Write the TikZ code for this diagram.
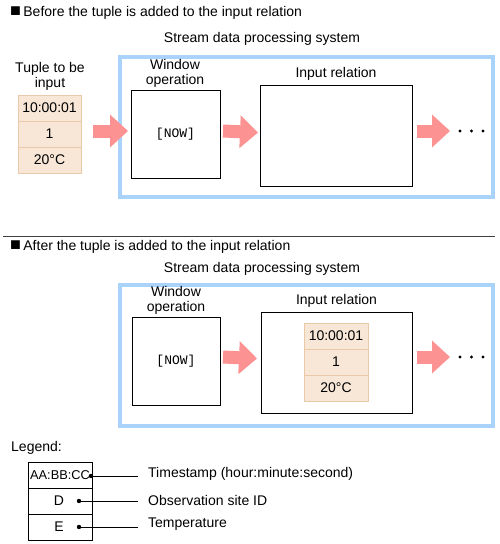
\documentclass[tikz,border=0pt]{standalone}
\usepackage{fontspec}
\setmainfont{Liberation Sans}
\setmonofont{Liberation Mono}
\usetikzlibrary{calc, arrows.meta, positioning}

\definecolor{framebl}{RGB}{170,211,252}
\definecolor{arrowpk}{RGB}{252,146,146}
\definecolor{tuplefill}{RGB}{248,231,215}
\definecolor{tupledraw}{RGB}{234,201,168}

\tikzset{
  txt/.style={font=\fontsize{14}{15}\selectfont, inner sep=0pt, align=center},
  frame/.style={draw=framebl, line width=4pt},
  opbox/.style={draw, line width=1pt, inner sep=0pt, outer sep=0pt},
  cell/.style={draw=tupledraw, fill=tuplefill, line width=1pt, outer sep=0pt, inner sep=0pt,
    minimum width=63pt, minimum height=26pt, font=\fontsize{14}{15}\selectfont},
  legcell/.style={draw, line width=0.8pt, outer sep=0pt, inner sep=0pt,
    minimum width=64pt, minimum height=26pt},
  blockarrow/.style={draw=arrowpk, line width=13pt,
    -{Triangle[length=18pt 0 0, width=33pt 0 0, line width=0pt, fill=arrowpk]}},
}

\begin{document}
\begin{tikzpicture}[x=1pt,y=-1pt]
        \useasboundingbox (0,0) rectangle (499,544);

        % before
        \node[txt, anchor=west] (head1) at (10,13) {{\fontsize{18}{15}\selectfont ■}\,Before the tuple is added to the input relation};
        \node[txt] (sys1) at (262,39) {Stream data processing system};
        \draw[frame] (120,57) rectangle (493,197);

        \node[txt] (tuplab) at (50,76) {Tuple to be\\input};
        \node[cell] (tupA) at (49.5,108) {10:00:01};
        \node[cell, below=0pt of tupA] (tupB) {1};
        \node[cell, below=0pt of tupB] (tupC) {20°C};

        \node[txt] (winlab1) at (175,73) {Window\\operation};
        \node[opbox, minimum width=89pt, minimum height=88pt] (win1) at (175.5,134)
          {\fontsize{13}{14}\selectfont\ttfamily [NOW]};
        \node[txt] (rellab1) at (336,74) {Input relation};
        \node[opbox, minimum width=152pt, minimum height=101pt] (rel1) at (336,135.5) {};

        \draw[blockarrow] ([xshift=12pt,yshift=3pt]tupB.east) -- ([xshift=-3pt,yshift=3pt]win1.west);
        \draw[blockarrow] ([xshift=3pt,yshift=3pt]win1.east) -- ([xshift=-2pt,yshift=3pt]rel1.west);
        \coordinate (out1) at (450,131);
        \draw[blockarrow] ([xshift=5pt]rel1.east |- out1) -- (out1);
        \fill (460,131) circle (1.6);
        \fill (471.5,131) circle (1.6);
        \fill (483,131) circle (1.6);

        \draw[line width=1pt, black!75] (3,236) -- (495,236);

        % after
        \node[txt, anchor=west] (head2) at (10,247) {{\fontsize{18}{15}\selectfont ■}\,After the tuple is added to the input relation};
        \node[txt] (sys2) at (262,269) {Stream data processing system};
        \draw[frame] (120,285) rectangle (493,426);

        \node[txt] (winlab2) at (176,300) {Window\\operation};
        \node[opbox, minimum width=88pt, minimum height=88pt] (win2) at (176,361)
          {\fontsize{13}{14}\selectfont\ttfamily [NOW]};
        \node[txt] (rellab2) at (336.5,301) {Input relation};
        \node[opbox, minimum width=151pt, minimum height=101pt] (rel2) at (336.5,362.5) {};

        \node[cell, minimum width=64pt] (inA) at (336,336) {10:00:01};
        \node[cell, minimum width=64pt, below=0pt of inA] (inB) {1};
        \node[cell, minimum width=64pt, below=0pt of inB] (inC) {20°C};

        \draw[blockarrow] ([xshift=3pt,yshift=4pt]win2.east) -- ([xshift=-4pt,yshift=4pt]rel2.west);
        \coordinate (out2) at (450,357);
        \draw[blockarrow] ([xshift=5pt]rel2.east |- out2) -- (out2);
        \fill (460,357) circle (1.6);
        \fill (471.5,357) circle (1.6);
        \fill (483,357) circle (1.6);

        % legend
        \node[txt, anchor=west] (leg) at (11,448) {Legend:};
        \node[legcell] (legA) at (60,475) {\fontsize{12.8}{14}\selectfont AA:BB:CC};
        \node[legcell, below=0pt of legA] (legB) {};
        \node[legcell, below=0pt of legB] (legC) {};
        \node[txt] at (59,501) {D};
        \node[txt] at (59,527) {E};

        \coordinate (dotA) at (91,476);
        \coordinate (dotB) at (79,501);
        \coordinate (dotC) at (79,527);
        \node[txt, anchor=west] (tsA) at (148,474) {Timestamp (hour:minute:second)};
        \node[txt, anchor=west] (tsB) at (148,500) {Observation site ID};
        \node[txt, anchor=west] (tsC) at (148,524) {Temperature};

        \draw[line width=0.8pt, shorten >=10pt] (dotA) -- (dotA -| tsA.west);
        \draw[line width=0.8pt, shorten >=10pt] (dotB) -- (dotB -| tsB.west);
        \draw[line width=0.8pt, shorten >=10pt] (dotC) -- (dotC -| tsC.west);
        \fill (dotA) circle (2.2);
        \fill (dotB) circle (2.2);
        \fill (dotC) circle (2.2);
      \end{tikzpicture}
\end{document}
